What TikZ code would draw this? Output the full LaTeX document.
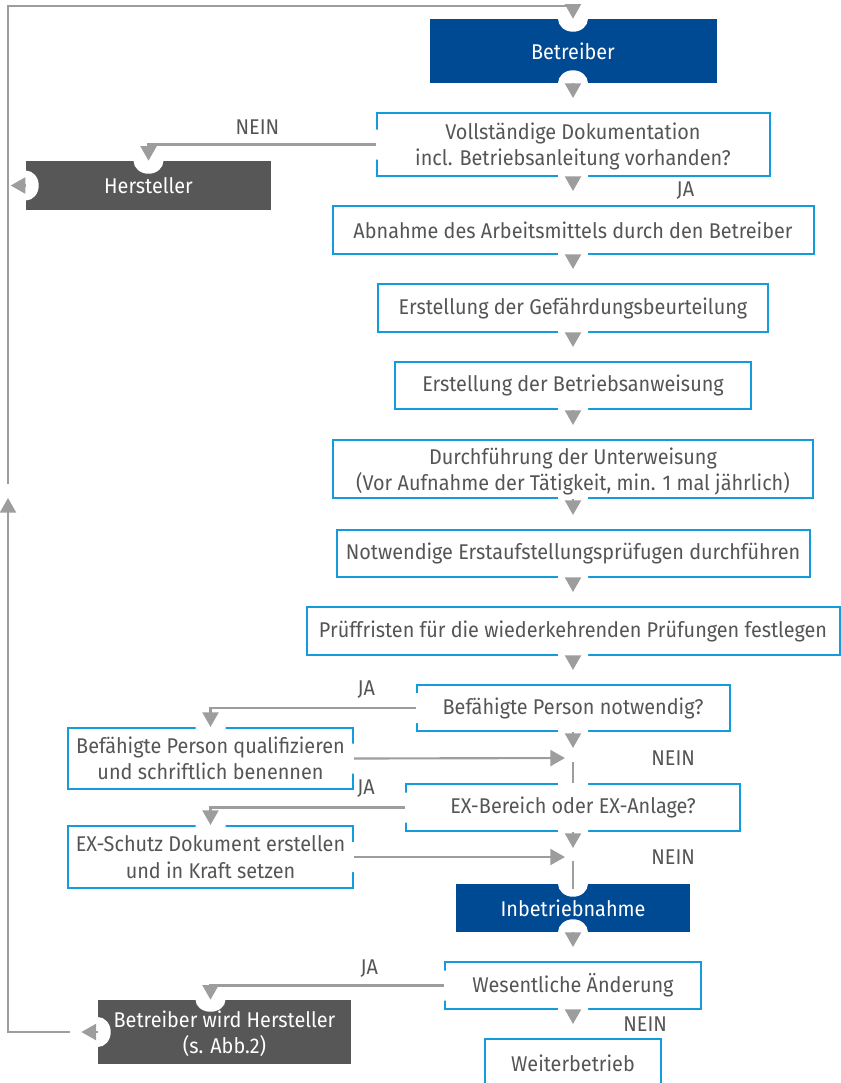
\documentclass[tikz,border=0pt]{standalone}
\usepackage{fontspec}
\setmainfont{Fira Sans}[FakeStretch=0.93]
\usetikzlibrary{arrows.meta}
\definecolor{blau}{RGB}{0,74,147}
\definecolor{hblau}{RGB}{20,155,220}
\definecolor{dgrau}{RGB}{87,87,87}
\definecolor{grau}{RGB}{157,157,157}
\definecolor{schrift}{RGB}{85,85,85}
\begin{document}
\begin{tikzpicture}[x=0.75pt,y=-0.75pt,font=\fontsize{16}{19.7}\selectfont,
kasten/.style={draw=hblau,line width=1.5pt,text=schrift,align=center,inner sep=0pt},
voll/.style={fill=#1,text=white,align=center,inner sep=0pt},
zwei/.style={text depth=0pt},
gr/.style 2 args={minimum width=#1*0.75pt,minimum height=#2*0.75pt},
ln/.style={draw=grau,line width=1.6pt},
pf/.style={ln,-{Triangle[length=11pt,width=12pt]}},
pfk/.style={pf,shorten >=10.5pt},
lab/.style={text=schrift,inner sep=0pt}]
\useasboundingbox(0,0)rectangle(841,1083);
%
\node[voll=blau,gr={287}{64}](bet)at(573,51){Betreiber};
\node[kasten,zwei,gr={393}{63}](doku)at(573,144.5){Vollständige Dokumentation\\incl. Betriebsanleitung vorhanden?};
\node[voll=dgrau,gr={245}{49}](her)at(148.5,185.5){Hersteller};
\node[kasten,gr={481}{48}](abn)at(573,230){Abnahme des Arbeitsmittels durch den Betreiber};
\node[kasten,gr={390}{48}](gef)at(573,308){Erstellung der Gefährdungsbeurteilung};
\node[kasten,gr={356}{47}](anw)at(573,385.5){Erstellung der Betriebsanweisung};
\node[kasten,zwei,gr={480}{58}](unt)at(573,469){Durchführung der Unterweisung\\(Vor Aufnahme der Tätigkeit, min. 1 mal jährlich)};
\node[kasten,gr={473}{47}](erst)at(573,553.5){Notwendige Erstaufstellungsprüfugen durchführen};
\node[kasten,gr={533}{48}](frist)at(573,631){Prüffristen für die wiederkehrenden Prüfungen festlegen};
\node[kasten,gr={313}{46}](bp)at(573,708){Befähigte Person notwendig?};
\node[kasten,zwei,gr={285}{61}](bpq)at(210.5,758.5){Befähigte Person qualifizieren\\und schriftlich benennen};
\node[kasten,gr={334}{47}](ex)at(573,807.5){EX-Bereich oder EX-Anlage?};
\node[kasten,zwei,gr={285}{62}](exs)at(210.5,857){EX-Schutz Dokument erstellen\\und in Kraft setzen};
\node[voll=blau,gr={234}{48}](inb)at(573,908){Inbetriebnahme};
\node[kasten,gr={256}{47}](wes)at(573,985.5){Wesentliche Änderung};
\node[voll=dgrau,zwei,gr={253}{64}](bwh)at(224.5,1032){Betreiber wird Hersteller\\(s. Abb.2)};
\node[kasten,gr={176}{48}](wei)at(573,1063){Weiterbetrieb};
%
\coordinate(lo)at(8,6);
\coordinate(lm)at(8,484);
\coordinate(lp)at(8,498);
\coordinate(m1)at(573,758);
\coordinate(m2)at(573,857);
% Aussparungen
\fill[white](bet.north)ellipse[x radius=15,y radius=13](bet.south)ellipse[x radius=15,y radius=13]
(her.north)ellipse[x radius=15,y radius=13](her.west)ellipse[x radius=13,y radius=15]
(inb.north)ellipse[x radius=15,y radius=13](inb.south)ellipse[x radius=15,y radius=13]
(bwh.west)ellipse[x radius=13,y radius=15](bwh.north-|bpq)ellipse[x radius=15,y radius=12];
\fill[white](doku.south)++(-15,-3)rectangle++(30,6)
(abn.south)++(-15,-3)rectangle++(30,6)(gef.south)++(-15,-3)rectangle++(30,6)
(anw.south)++(-15,-3)rectangle++(30,6)(unt.south)++(-15,-3)rectangle++(30,6)
(erst.south)++(-15,-3)rectangle++(30,6)(frist.south)++(-15,-3)rectangle++(30,6)
(bp.south)++(-15,-3)rectangle++(30,6)(bpq.north)++(-15,-3)rectangle++(30,6)
(ex.north)++(-15,-3)rectangle++(30,6)(ex.south)++(-15,-3)rectangle++(30,6)
(exs.north)++(-15,-3)rectangle++(30,6)(wes.south)++(-15,-3)rectangle++(30,6)
(doku.west)++(-3,-15)rectangle++(6,30)(bp.west)++(-3,-15)rectangle++(6,30)
(ex.west)++(-3,-15)rectangle++(6,30)(wes.west)++(-3,-15)rectangle++(6,30)
(bpq.east)++(-3,-15)rectangle++(6,30)(exs.east)++(-3,-15)rectangle++(6,30);
%
\draw[pf](lm)--(lo)-|(bet.north);
\draw[pfk](bet)--(doku);
\draw[pf](doku.west)-|node[lab,pos=.26,above=7pt]{NEIN}(her.north);
\draw[pf,shorten >=2pt](her.west)--(her.west-|lo);
\draw[pfk](doku)--node[lab,right=77pt]{JA}(abn);
\draw[pfk](abn)--(gef);
\draw[pfk](gef)--(anw);
\draw[pfk](anw)--(unt);
\draw[pfk](unt)--(erst);
\draw[pfk](erst)--(frist);
\draw[pfk](frist)--(bp);
\draw[pf](bp.west)-|node[lab,pos=.12,above=6.5pt]{JA}(bpq.north);
\draw[pf,shorten >=6pt](bpq.east)--(m1);
\draw[pf,shorten >=7.5pt](bp)--(m1);
\draw[ln,shorten <=3pt](m1)--node[lab,pos=0,right=58pt]{NEIN}(ex);
\draw[pf](ex.west)-|node[lab,pos=.1,above=6.5pt]{JA}(exs.north);
\draw[pf,shorten >=6pt](exs.east)--(m2);
\draw[pf,shorten >=6.75pt](ex)--(m2);
\draw[ln,shorten <=3pt](m2)--node[lab,pos=0,right=58pt]{NEIN}([yshift=-4pt]inb.north);
\draw[pfk](inb)--(wes);
\draw[pf](wes.west)-|node[lab,pos=.16,above=5pt]{JA}(bwh.north-|bpq);
\draw[pfk](wes)--node[lab,right=37pt]{NEIN}(wei);
\draw[pf,shorten >=55pt](bwh.west)--(bwh.west-|lo);
\draw[pf,shorten <=21pt](bwh.west)-|(lp);
\end{tikzpicture}
\end{document}
